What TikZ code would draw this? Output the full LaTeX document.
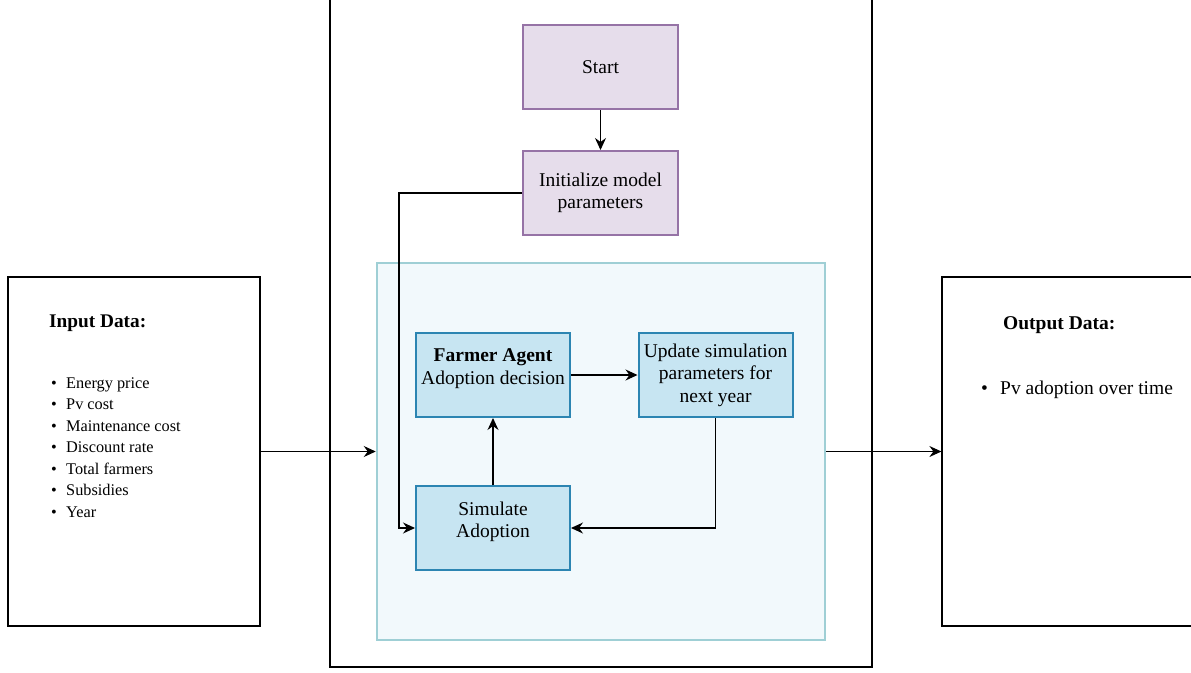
\documentclass[tikz,border=0pt]{standalone}
\usepackage{fontspec}
\setmainfont{Liberation Serif}
\usetikzlibrary{arrows.meta}
\definecolor{purpledraw}{HTML}{9673A6}
\definecolor{purplefill}{HTML}{E6DDEB}
\definecolor{bluedraw}{HTML}{2C85B2}
\definecolor{bluefill}{HTML}{C7E5F2}
\definecolor{tealdraw}{HTML}{9FCFD5}
\definecolor{tealfill}{HTML}{F2F9FC}

\begin{document}
\begin{tikzpicture}
  [x=1pt,y=-1pt,
   every node/.style={font=\fontsize{19.5}{22.5}\selectfont, align=center, inner sep=0pt},
   plainbox/.style={draw=black, line width=1.2pt},
   purplebox/.style={draw=purpledraw, fill=purplefill, line width=2pt, minimum width=155pt, minimum height=84pt},
   bluebox/.style={draw=bluedraw, fill=bluefill, line width=2pt, minimum width=154pt, minimum height=84pt},
   link/.style={-{Stealth[length=12pt,width=11pt,inset=4pt]}, line width=1.1pt}]
  \useasboundingbox (0,0) rectangle (1191,672);
  \clip (0,0) rectangle (1191,672);

  \node[plainbox, minimum width=542pt, minimum height=697pt] (frame) at (601,318.5) {};
  \node[plainbox, minimum width=252pt, minimum height=349pt] (input) at (134,451.5) {};
  \node[plainbox, minimum width=268pt, minimum height=349pt] (output) at (1076,451.5) {};
  \node[draw=tealdraw, fill=tealfill, line width=2.5pt, minimum width=448pt, minimum height=377pt] (sim) at (601,451.5) {};

  \node[purplebox] (start) at (600.5,67) {Start};
  \node[purplebox] (init) at (600.5,193) {Initialize model\\parameters};
  \node[bluebox] (farmer) at (493,375) {\textbf{Farmer Agent}\\Adoption decision\\[-6pt]\mbox{}};
  \node[bluebox] (update) at (715.5,375) {Update simulation\\parameters for\\next year};
  \node[bluebox] (simulate) at (493,528) {Simulate\\Adoption\\[-6pt]\mbox{}};

  % data texts
  \node[anchor=west, font=\bfseries\fontsize{19.3}{22}\selectfont] (inhead) at (49,323) {Input Data:};
  \node[anchor=west, align=left, font=\fontsize{16.3}{21.5}\selectfont] (inlist) at (51,447.5)
    {\makebox[15pt][l]{\textbullet}Energy price\\
     \makebox[15pt][l]{\textbullet}Pv cost\\
     \makebox[15pt][l]{\textbullet}Maintenance cost\\
     \makebox[15pt][l]{\textbullet}Discount rate\\
     \makebox[15pt][l]{\textbullet}Total farmers\\
     \makebox[15pt][l]{\textbullet}Subsidies\\
     \makebox[15pt][l]{\textbullet}Year};
  \node[anchor=west, font=\bfseries\fontsize{19.5}{22}\selectfont] (outhead) at (1003,325) {Output Data:};
  \node[anchor=west] (outlist) at (981,390) {\makebox[19pt][l]{\textbullet}Pv adoption over time};

\path[link]
    (start) edge (init)
    (farmer) edge (update)
    (simulate) edge (farmer)
    (input) edge (sim)
    (sim) edge (output)
;
  \draw[link] (init.west) -- ++(-123,0) |- (simulate.west);
  \draw[link] (update.south) |- (simulate.east);
\end{tikzpicture}
\end{document}
